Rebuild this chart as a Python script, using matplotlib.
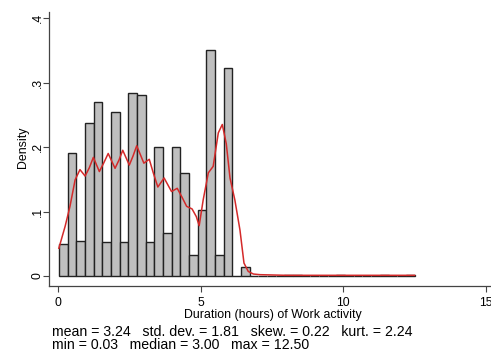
import numpy as np
import matplotlib
matplotlib.use("Agg")
import matplotlib.pyplot as plt

plt.rcParams['font.family'] = ['Liberation Sans', 'DejaVu Sans']

# histogram of work durations: 41 bins from min to max
x_min, x_max, n_bins = 0.03, 12.50, 41
density = [0.050, 0.190, 0.055, 0.237, 0.270, 0.053, 0.254, 0.052, 0.284, 0.281,
           0.052, 0.200, 0.066, 0.200, 0.160, 0.033, 0.102, 0.350, 0.032, 0.322,
           0.000, 0.014, 0.000, 0.000, 0.000, 0.000, 0.002, 0.002, 0.000, 0.000,
           0.000, 0.000, 0.002, 0.000, 0.000, 0.000, 0.000, 0.002, 0.000, 0.000,
           0.002]

# kernel density estimate
kde_x = [0.03, 0.25, 0.42, 0.60, 0.77, 0.95, 1.10, 1.24, 1.45, 1.60, 1.76, 2.00,
         2.14, 2.27, 2.50, 2.63, 2.76, 3.01, 3.20, 3.34, 3.50, 3.72, 3.98, 4.18,
         4.35, 4.51, 4.70, 4.85, 4.95, 5.09, 5.27, 5.44, 5.62, 5.76, 5.90, 6.03,
         6.20, 6.38, 6.52, 6.67, 6.85, 7.08, 8.0, 9.0, 10.0, 11.0, 12.0, 12.5]
kde_y = [0.043, 0.077, 0.108, 0.149, 0.165, 0.155, 0.168, 0.184, 0.162, 0.175,
         0.190, 0.167, 0.180, 0.195, 0.172, 0.186, 0.202, 0.175, 0.181, 0.160,
         0.138, 0.152, 0.131, 0.136, 0.122, 0.108, 0.104, 0.092, 0.078, 0.118,
         0.160, 0.170, 0.222, 0.235, 0.205, 0.152, 0.118, 0.071, 0.020, 0.007,
         0.003, 0.002, 0.001, 0.001, 0.001, 0.001, 0.001, 0.001]

stats_line1 = "mean = 3.24   std. dev. = 1.81   skew. = 0.22   kurt. = 2.24"
stats_line2 = "min = 0.03   median = 3.00   max = 12.50"

fig = plt.figure(figsize=(4.91, 3.54), dpi=100)
ax = fig.add_axes([0.1008, 0.1935, 0.8992, 0.7735])

edges = np.linspace(x_min, x_max, n_bins + 1)
ax.bar(edges[:-1], density, width=np.diff(edges), align='edge',
       color='#bfbfbf', edgecolor='#222222', linewidth=1.0, zorder=2)
ax.plot(kde_x, kde_y, color='#d42a2a', linewidth=1.1, zorder=3)

ax.set_xlim(-0.298, 15.18)
ax.set_ylim(-0.0148, 0.41)
ax.set_xticks([0, 5, 10, 15])
ax.set_xticklabels(['0', '5', '10', '15'])
ax.set_yticks([0, 0.1, 0.2, 0.3, 0.4])
ax.set_yticklabels(['0', '.1', '.2', '.3', '.4'], rotation=90, va='center')
ax.tick_params(labelsize=8.7, length=4, width=0.8, color='#444444')
ax.tick_params(axis='x', pad=4.5)
ax.tick_params(axis='y', pad=0)
for s in ['top', 'right']:
    ax.spines[s].set_visible(False)
for s in ['left', 'bottom']:
    ax.spines[s].set_color('#444444')
    ax.spines[s].set_linewidth(0.9)

ax.set_ylabel('Density', fontsize=8.9)
ax.yaxis.set_label_coords(-0.046, 0.506)
ax.set_xlabel('Duration (hours) of Work activity', fontsize=8.9)
ax.xaxis.set_label_coords(0.5056, -0.085)

fig.text(52 / 491, 1 - 332 / 354, stats_line1, fontsize=10.2, va='center', ha='left')
fig.text(52 / 491, 1 - 345 / 354, stats_line2, fontsize=10.2, va='center', ha='left')

fig.savefig('out.png', dpi=100)
